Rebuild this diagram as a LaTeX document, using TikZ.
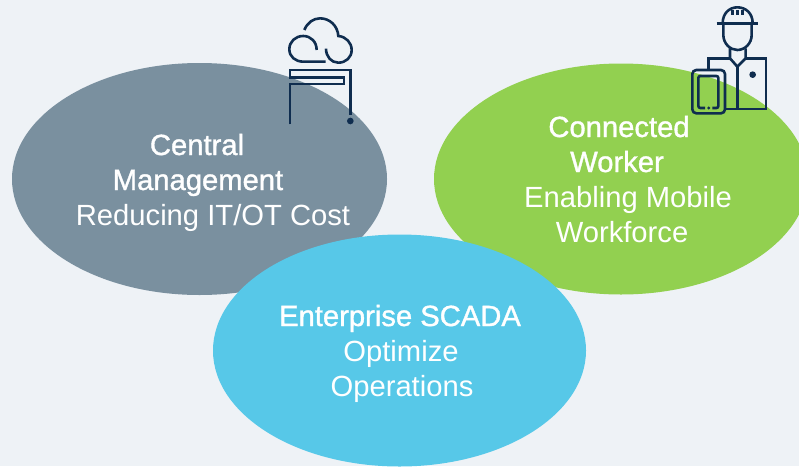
\documentclass[tikz,border=0pt]{standalone}
\usepackage{fontspec}
\setmainfont{Liberation Sans}
\newfontfamily\fakebold[FakeBold=1.2]{Liberation Sans}
\definecolor{bgc}{HTML}{EEF2F6}
\definecolor{grayc}{HTML}{7A909F}
\definecolor{greenc}{HTML}{92D050}
\definecolor{bluec}{HTML}{57C8E8}
\definecolor{navyc}{HTML}{0F2D4F}
\tikzset{
 reg/.style={text=white,inner sep=0pt,anchor=base,font=\fontsize{29.2}{32}\selectfont},
 hd/.style={text=white,inner sep=0pt,anchor=base,font=\fontsize{29.2}{32}\selectfont\fakebold},
 ico/.style={draw=navyc,line width=2.6pt,line join=miter},
}
\begin{document}
\begin{tikzpicture}[x=1pt,y=-1pt]
\useasboundingbox (0,0) rectangle (799,466);
\fill[bgc] (0,0) rectangle (799,466);
\begin{scope}
\clip (0,0) rectangle (799,466);
\fill[grayc] (199.5,179) ellipse [x radius=187.5,y radius=116];
\fill[greenc] (621,179) ellipse [x radius=187,y radius=115.5];
\fill[bluec] (399.5,350.5) ellipse [x radius=186.5,y radius=116];
\end{scope}
\node[hd] (c1) at (197,155) {Central};
\node[hd] (c2) at (198,190) {Management};
\node[reg] (c3) at (213,225) {Reducing IT/OT Cost};
\node[hd] (w1) at (619,137) {Connected};
\node[hd] (w2) at (617,172) {Worker};
\node[reg] (w3) at (628,207) {Enabling Mobile};
\node[reg] (w4) at (622,242) {Workforce};
\node[hd] (s1) at (400,326) {Enterprise SCADA};
\node[reg] (s2) at (401,361) {Optimize};
\node[reg] (s3) at (402,396) {Operations};
% cloud icon
\begin{scope}[shift={(270,10)},x=0.3333pt,y=-0.3333pt]
\draw[ico] (103,60) .. controls (112,38) and (130,25) .. (150,25) .. controls (180,25) and (203,48) .. (205,78)
  .. controls (228,80) and (245,98) .. (245,120) .. controls (245,142) and (228,158) .. (205,158)
  .. controls (184,158) and (168,140) .. (168,116);
\draw[ico] (140,120) .. controls (140,95) and (122,78) .. (100,78) .. controls (76,78) and (58,95) .. (58,118)
  .. controls (58,140) and (76,155) .. (100,155) -- (167,155);
\draw[ico] (60,343) -- (60,222) -- (222,222) -- (222,203) -- (60,203) -- (60,180) -- (241,180) -- (241,315);
\fill[navyc] (241,333) circle [radius=10];
\end{scope}
% worker icon
\begin{scope}[shift={(680,0)},x=0.3333pt,y=-0.3333pt]
\draw[ico] (110,70) -- (233,70);
\draw[ico] (128,70) .. controls (128,40) and (148,22) .. (172,22) .. controls (198,22) and (218,40) .. (218,70);
\draw[ico] (158,30) -- (158,45) (172,30) -- (172,45) (187,30) -- (187,45);
\draw[ico] (130,70) -- (130,105) .. controls (130,130) and (150,150) .. (172,150) .. controls (195,150) and (215,130) .. (215,105) -- (215,70);
\draw[ico] (150,145) -- (150,175) -- (172,200) -- (197,175) -- (197,145);
\draw[ico] (85,210) -- (85,175) -- (150,175);
\draw[ico] (197,175) -- (258,175) -- (258,327) -- (135,327);
\draw[ico] (172,200) -- (172,327);
\fill[navyc] (218,224) circle [radius=10];
\draw[ico,rounded corners=4pt] (37,210) rectangle (135,340);
\draw[ico,rounded corners=2pt] (75,324) -- (55,324) -- (55,228) -- (115,228) -- (115,324) -- (97,324);
\fill[navyc] (86,324) circle [radius=5];
\end{scope}
\end{tikzpicture}
\end{document}
